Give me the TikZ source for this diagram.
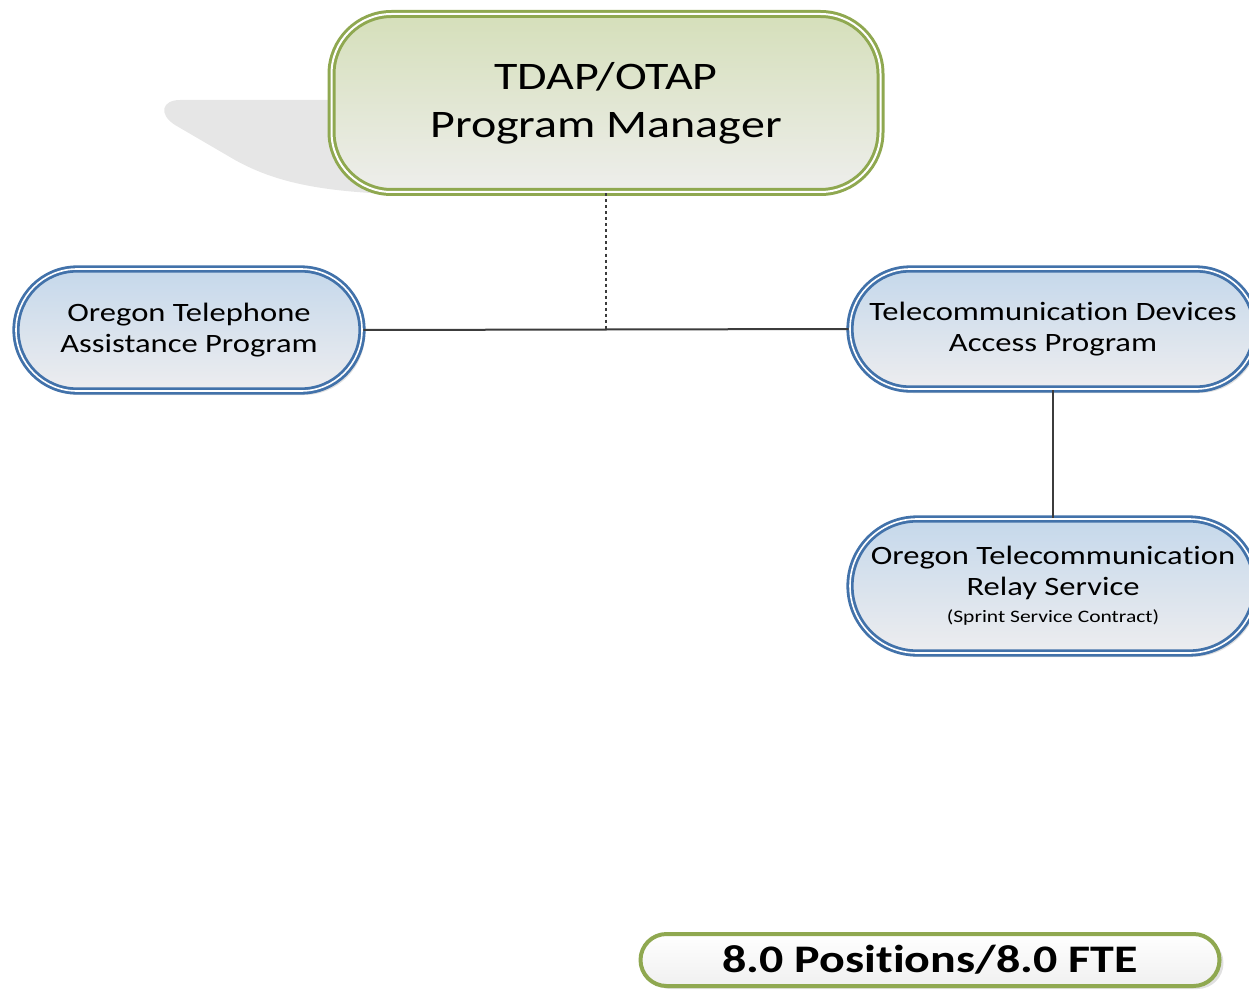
\documentclass[tikz,border=0pt]{standalone}
\usepackage{fontspec}
\setmainfont{Carlito}[FakeStretch=1.23, RawFeature=-liga]
\usetikzlibrary{shapes.misc,shadows,calc}

\definecolor{mgrGreen}{RGB}{143,168,80}
\definecolor{mgrTop}{RGB}{213,223,186}
\definecolor{mgrBot}{RGB}{238,238,236}
\definecolor{pgmBlue}{RGB}{66,114,170}
\definecolor{pgmTop}{RGB}{197,216,235}
\definecolor{pgmBot}{RGB}{237,237,239}
\definecolor{linkGray}{RGB}{60,60,60}
\definecolor{shadeGray}{RGB}{230,230,230}

\tikzset{
  managerbox/.style={rectangle, rounded corners=60pt, inner sep=0pt,
    minimum width=549pt, minimum height=178pt,
    draw=mgrGreen, line width=3pt, double=white, double distance=2pt,
    top color=mgrTop, bottom color=mgrBot, align=center,
    font=\fontsize{39}{48}\selectfont},
  programbox/.style={rounded rectangle, inner sep=0pt,
    draw=pgmBlue, line width=2.8pt, double=white, double distance=1.6pt,
    top color=pgmTop, bottom color=pgmBot, align=center,
    drop shadow={shadow xshift=3pt, shadow yshift=-4pt, fill=black, opacity=0.12},
    font=\fontsize{26.5}{31}\selectfont},
  countbox/.style={rectangle, rounded corners=26pt, inner sep=0pt,
    minimum width=579pt, minimum height=52pt,
    draw=mgrGreen, line width=4pt,
    top color=white, bottom color=black!6,
    drop shadow={shadow xshift=4pt, shadow yshift=-3pt, fill=black, opacity=0.12},
    font=\bfseries\fontsize{39}{48}\selectfont},
  link/.style={draw=linkGray, line width=2pt},
  dottedlink/.style={draw=linkGray, line width=2.5pt, dash pattern=on 3pt off 3pt}
}

\begin{document}
\begin{tikzpicture}[x=1pt,y=-1pt]
  \useasboundingbox (0,0) rectangle (1249,992);
  \clip (0,0) rectangle (1249,992);

  % perspective shadow cast by the manager box
  \fill[shadeGray] (420,100) -- (180,100)
    .. controls (162,100) and (158,114) .. (175,125)
    -- (235,160)
    .. controls (280,185) and (330,193) .. (420,195)
    -- cycle;

  % manager
  \node[managerbox] (mgr) at (606,103) {TDAP/OTAP\\Program Manager};

  % programs
  \node[programbox, minimum width=346pt, minimum height=122pt]
    (otap) at (189,330) {Oregon Telephone\\Assistance Program};
  \node[programbox, minimum width=406pt, minimum height=120pt]
    (tdap) at (1053,329) {Telecommunication Devices\\Access Program};
  \node[programbox, minimum width=406pt, minimum height=134pt]
    (otrs) at (1053,586) {Oregon Telecommunication\\Relay Service\\[-4pt]
      {\fontsize{17.5}{20}\selectfont (Sprint Service Contract)}};

  % staffing total
  \node[countbox] (fte) at (930,960) {8.0 Positions/8.0 FTE};

  % connectors
  \coordinate (join) at ($(otap.east)!0.5!(tdap.west)$);
  \draw[link] (otap.east) -- (tdap.west);
  \draw[dottedlink] (mgr.south) -- (join);
  \draw[link] (tdap.south) -- (otrs.north);
\end{tikzpicture}
\end{document}
